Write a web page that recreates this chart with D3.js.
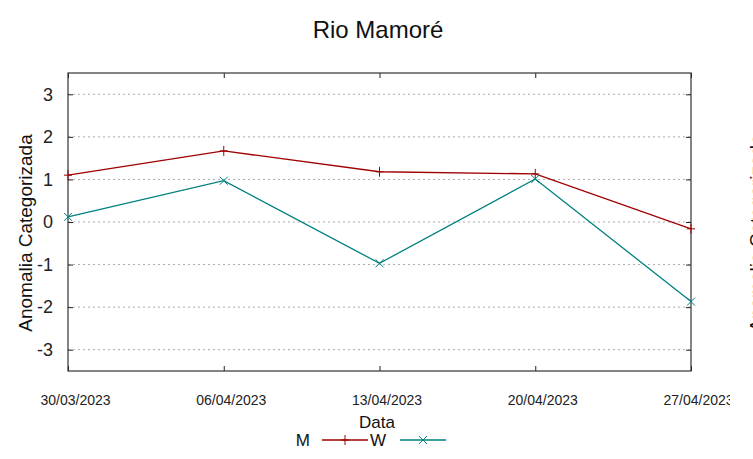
<!DOCTYPE html>
<html>
<head>
<meta charset="utf-8">
<script src="https://cdn.jsdelivr.net/npm/d3@7"></script>
<style>
  body { margin: 0; background: #fff; }
  svg { font-family: "Liberation Sans", Arial, sans-serif; display: block; }
</style>
</head>
<body>
<svg id="svg" width="753" height="459"></svg>
<script>
// dates and the two series
var dates = ["30/03/2023", "06/04/2023", "13/04/2023", "20/04/2023", "27/04/2023"];
var serieM = [1.10, 1.67, 1.18, 1.13, -0.16];
var serieW = [0.12, 0.97, -0.97, 1.01, -1.87];
var yTicks = [-3, -2, -1, 0, 1, 2, 3];

var svg = d3.select("#svg");
var pLeft = 68, pRight = 691, pTop = 73, pBottom = 371;

var parse = d3.timeParse("%d/%m/%Y");
var x = d3.scaleTime()
  .domain([parse(dates[0]), parse(dates[dates.length - 1])])
  .range([pLeft, pRight]);
var y = d3.scaleLinear().domain([-3.5, 3.5]).range([pBottom, pTop]);

svg.append("defs").append("clipPath").attr("id", "cut")
  .append("rect").attr("x", 0).attr("y", -100).attr("width", 730).attr("height", 600);

// grid
svg.append("g").selectAll("line").data(yTicks).enter().append("line")
  .attr("x1", pLeft).attr("x2", pRight)
  .attr("y1", function(d) { return y(d); })
  .attr("y2", function(d) { return y(d); })
  .attr("stroke", "#aaa").attr("stroke-width", 1)
  .attr("stroke-dasharray", "2,3");

// y axis ticks + labels (gnuplot style, inward on both sides)
var yl = d3.axisLeft(y).tickValues(yTicks).tickSizeInner(-5).tickSizeOuter(0).tickPadding(15)
  .tickFormat(function(d) { return String(d); });
var gy = svg.append("g").attr("transform", "translate(" + pLeft + ",0)").call(yl);
gy.select(".domain").remove();
gy.selectAll("text").attr("font-size", 18).attr("fill", "#222").attr("font-family", "Liberation Sans, Arial");
gy.selectAll("line").attr("stroke", "#222");
var yr = d3.axisRight(y).tickValues(yTicks).tickSizeInner(-5).tickSizeOuter(0).tickFormat("");
var gyr = svg.append("g").attr("transform", "translate(" + pRight + ",0)").call(yr);
gyr.select(".domain").remove();
gyr.selectAll("line").attr("stroke", "#222");

// x axis
var xb = d3.axisBottom(x).tickValues(dates.map(parse)).tickSizeInner(-5).tickSizeOuter(0)
  .tickPadding(24).tickFormat(d3.timeFormat("%d/%m/%Y"));
var gx = svg.append("g").attr("clip-path", "url(#cut)")
  .append("g").attr("transform", "translate(0," + pBottom + ")").call(xb);
gx.select(".domain").remove();
gx.selectAll("line").attr("stroke", "#222");
gx.selectAll("text").attr("font-size", 14).attr("fill", "#222")
  .attr("font-family", "Liberation Sans, Arial")
  .attr("dx", 7);
var xt = d3.axisTop(x).tickValues(dates.map(parse)).tickSizeInner(-5).tickSizeOuter(0).tickFormat("");
var gxt = svg.append("g").attr("transform", "translate(0," + pTop + ")").call(xt);
gxt.select(".domain").remove();
gxt.selectAll("line").attr("stroke", "#222");

// border
svg.append("rect").attr("x", pLeft).attr("y", pTop)
  .attr("width", pRight - pLeft).attr("height", pBottom - pTop)
  .attr("fill", "none").attr("stroke", "#333").attr("stroke-width", 1.2);

var colM = "#a00000", colW = "#008080";

var line = function(vals) {
  return d3.line()
    .x(function(d, i) { return x(parse(dates[i])); })
    .y(function(d) { return y(d); })(vals);
};

svg.append("path").attr("d", line(serieM)).attr("fill", "none")
  .attr("stroke", colM).attr("stroke-width", 1.3);
svg.append("path").attr("d", line(serieW)).attr("fill", "none")
  .attr("stroke", colW).attr("stroke-width", 1.3);

var plus = function(g, cx, cy, c) {
  g.append("line").attr("x1", cx - 4).attr("x2", cx + 4).attr("y1", cy).attr("y2", cy).attr("stroke", c);
  g.append("line").attr("x1", cx).attr("x2", cx).attr("y1", cy - 5).attr("y2", cy + 5).attr("stroke", c);
};
var cross = function(g, cx, cy, c) {
  g.append("line").attr("x1", cx - 4).attr("x2", cx + 4).attr("y1", cy - 4).attr("y2", cy + 4).attr("stroke", c);
  g.append("line").attr("x1", cx - 4).attr("x2", cx + 4).attr("y1", cy + 4).attr("y2", cy - 4).attr("stroke", c);
};
var marks = svg.append("g");
serieM.forEach(function(d, i) { plus(marks, x(parse(dates[i])), y(d), colM); });
serieW.forEach(function(d, i) { cross(marks, x(parse(dates[i])), y(d), colW); });

// titles
svg.append("text").attr("x", 378).attr("y", 38).attr("text-anchor", "middle")
  .attr("font-size", 24).attr("fill", "#111").text("Rio Mamoré");
svg.append("text").attr("x", 377).attr("y", 428).attr("text-anchor", "middle")
  .attr("font-size", 17).attr("fill", "#111").text("Data");
svg.append("text").attr("transform", "translate(32,233) rotate(-90)").attr("text-anchor", "middle")
  .attr("font-size", 19).attr("fill", "#111").text("Anomalia Categorizada");
svg.append("text").attr("transform", "translate(763,233) rotate(-90)").attr("text-anchor", "middle")
  .attr("font-size", 19).attr("fill", "#111").text("Anomalia Categorizada");

// legend
var leg = svg.append("g");
leg.append("text").attr("x", 310).attr("y", 446).attr("text-anchor", "end")
  .attr("font-size", 17).attr("fill", "#111").text("M");
leg.append("line").attr("x1", 322).attr("x2", 368).attr("y1", 440).attr("y2", 440).attr("stroke", colM).attr("stroke-width", 1.3);
plus(leg, 345, 440, colM);
leg.append("text").attr("x", 386).attr("y", 446).attr("text-anchor", "end")
  .attr("font-size", 17).attr("fill", "#111").text("W");
leg.append("line").attr("x1", 400).attr("x2", 446).attr("y1", 440).attr("y2", 440).attr("stroke", colW).attr("stroke-width", 1.3);
cross(leg, 423, 440, colW);
</script>
</body>
</html>
